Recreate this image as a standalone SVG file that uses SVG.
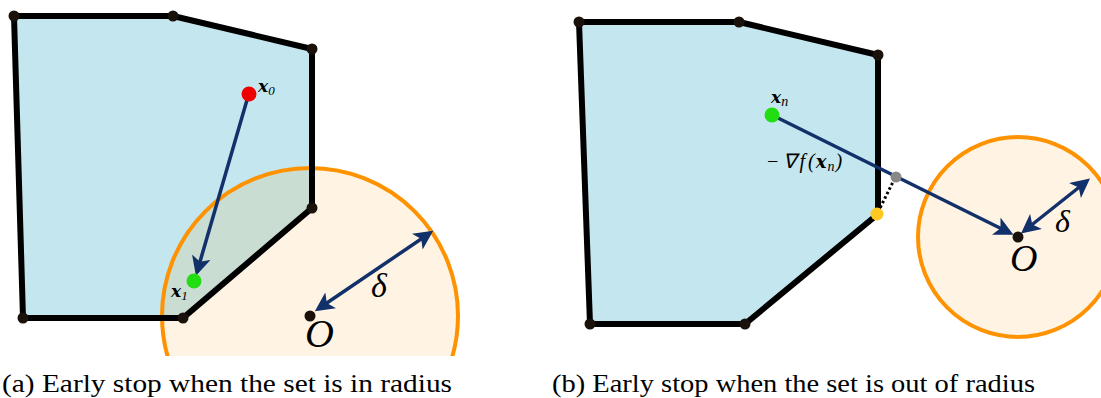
<svg xmlns="http://www.w3.org/2000/svg" width="1101" height="398" viewBox="0 0 1101 398">
<style>
.poly{fill:#c4e6ee;stroke:none}
.edge{fill:none;stroke:#000;stroke-width:6;stroke-linejoin:round}
.circ{fill:#ff9800;fill-opacity:0.11;stroke:#ff9200;stroke-width:4}
.vtx{fill:#1a120a}
.arr{stroke:#12306a;stroke-width:3.5;fill:none}
.m{font-family:"Liberation Serif",serif;font-style:italic}
.b{font-family:"DejaVu Serif","Liberation Serif",serif;font-weight:bold;font-style:italic}
.cap{font-family:"Liberation Serif",serif;font-size:26px;fill:#000}
</style>
<defs>
<marker id="ah" viewBox="0 0 10 10" refX="8" refY="5" markerWidth="5.5" markerHeight="5.5" orient="auto-start-reverse" markerUnits="strokeWidth">
<path d="M0,0 L10,5 L0,10 L2.5,5 Z" fill="#12306a"/>
</marker>
<clipPath id="cl"><rect x="0" y="0" width="1101" height="356"/></clipPath>
</defs>
<g id="panel-a">
<g id="set-a">
<polygon class="poly" points="14,16 173,16 312,49 312,208 183,318 23,318"/>
</g>
<g id="ball-a" clip-path="url(#cl)">
<circle class="circ" cx="310" cy="316" r="148"/>
</g>
<g id="set-a-edges">
<polygon class="edge" points="14,16 173,16 312,49 312,208 183,318 23,318"/>
<circle class="vtx" cx="14" cy="16" r="5.5"/>
<circle class="vtx" cx="173" cy="16" r="5.5"/>
<circle class="vtx" cx="312" cy="49" r="5.5"/>
<circle class="vtx" cx="312" cy="208" r="5.5"/>
<circle class="vtx" cx="183" cy="318" r="5.5"/>
<circle class="vtx" cx="23" cy="318" r="5.5"/>
</g>
<g id="connectors-a">
<line class="arr" x1="247" y1="100" x2="197" y2="272" marker-end="url(#ah)"/>
<line class="arr" x1="318" y1="309" x2="430" y2="233" marker-start="url(#ah)" marker-end="url(#ah)"/>
</g>
<g id="x0"><circle cx="249" cy="94" r="7.5" fill="#ee0000"/><text class="b" x="258" y="92" font-size="17">x<tspan class="m" font-weight="normal" font-style="normal" font-size="13" dy="3">0</tspan></text></g>
<g id="x1"><circle cx="194" cy="281" r="7.5" fill="#22dd11"/><text class="b" x="171" y="297" font-size="17">x<tspan class="m" font-weight="normal" font-style="normal" font-size="13" dy="3">1</tspan></text></g>
<g id="O-a"><circle class="vtx" cx="310" cy="316" r="5.5"/><text class="m" x="305" y="347" font-size="40">O</text></g>
<text class="m" x="371" y="297" font-size="34">δ</text>
</g>
<g id="panel-b">
<g id="ball-b"><circle class="circ" cx="1018" cy="237" r="100"/></g>
<g id="set-b">
<polygon class="poly" points="579,22 739,22 878,55 878,214 745,324 590,324"/>
<polygon class="edge" points="579,22 739,22 878,55 878,214 745,324 590,324"/>
<circle class="vtx" cx="579" cy="22" r="5.5"/>
<circle class="vtx" cx="739" cy="22" r="5.5"/>
<circle class="vtx" cx="878" cy="55" r="5.5"/>
<circle class="vtx" cx="745" cy="324" r="5.5"/>
<circle class="vtx" cx="590" cy="324" r="5.5"/>
</g>
<g id="connectors-b">
<line class="arr" x1="778" y1="118" x2="1010" y2="233" marker-end="url(#ah)"/>
<line x1="878" y1="212" x2="895" y2="178" stroke="#000" stroke-width="3" stroke-dasharray="2.5,2.5"/>
<line class="arr" x1="1024" y1="231" x2="1087" y2="181" marker-start="url(#ah)" marker-end="url(#ah)"/>
</g>
<g id="xn"><circle cx="772" cy="115" r="7.5" fill="#22dd11"/><text class="b" x="771" y="103" font-size="17">x<tspan class="m" font-weight="normal" font-size="14" dy="3">n</tspan></text></g>
<text id="grad" class="m" x="766" y="168" font-size="20" font-style="normal" letter-spacing="1">−<tspan dx="2">∇</tspan><tspan dx="3" font-style="italic">f</tspan><tspan dx="2">(</tspan><tspan class="b" font-size="18">x</tspan><tspan font-style="italic" font-size="14" dy="3">n</tspan><tspan dy="-3">)</tspan></text>
<g id="proj"><circle cx="896" cy="177" r="5.5" fill="#888"/></g>
<g id="yellow"><circle cx="877" cy="214" r="6.5" fill="#ffc820"/></g>
<g id="O-b"><circle class="vtx" cx="1018" cy="237" r="5.5"/><text class="m" x="1010" y="271" font-size="38">O</text></g>
<text class="m" x="1055" y="232" font-size="32">δ</text>
</g>
<g id="captions">
<text class="cap" x="2" y="392" textLength="450" lengthAdjust="spacingAndGlyphs">(a) Early stop when the set is in radius</text>
<text class="cap" x="552" y="392" textLength="483" lengthAdjust="spacingAndGlyphs">(b) Early stop when the set is out of radius</text>
</g>
</svg>
